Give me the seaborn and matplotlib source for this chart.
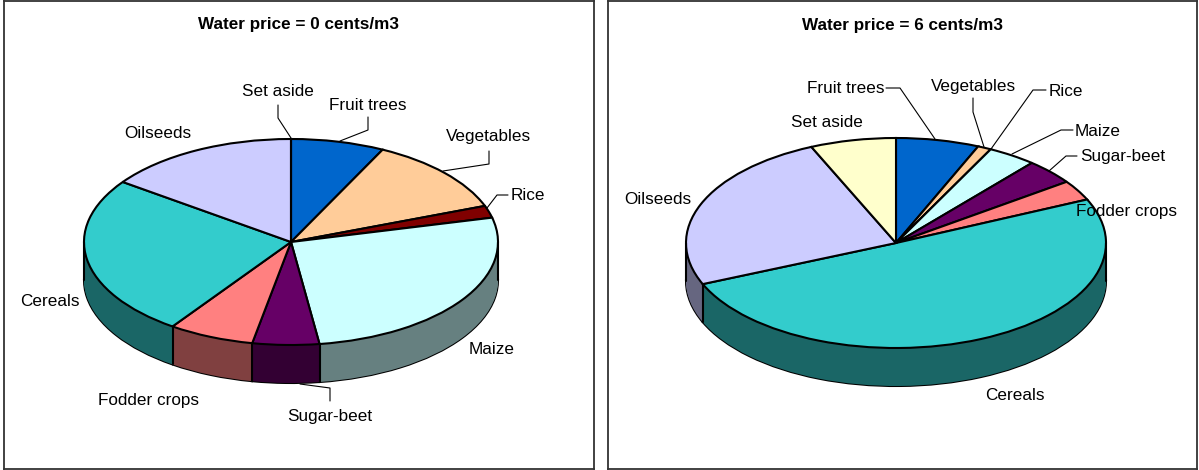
"""Two fake-3D pies: crop shares at water price 0 and 6 cents/m3."""
import numpy as np
import matplotlib
matplotlib.use("Agg")
import matplotlib.pyplot as plt
from matplotlib.colors import to_rgb
import seaborn as sns

W, H = 1199, 470

crops = ["Fruit trees", "Vegetables", "Rice", "Maize", "Sugar-beet",
         "Fodder crops", "Cereals", "Oilseeds", "Set aside"]
shares_0 = [7.3, 12.0, 1.9, 26.6, 5.2, 6.7, 25.2, 15.1, 0.0]
shares_6 = [6.4, 1.05, 0.0, 3.75, 3.9, 3.1, 50.4, 24.8, 6.6]
crop_colors = ["#0066CC", "#FFCC99", "#800000", "#CCFFFF", "#660066",
               "#FF8080", "#33CCCC", "#CCCCFF", "#FFFFCC"]

# label centres in picture pixels
labels_0 = [(368, 105), (488, 137), (528, 196), (492, 350), (330, 416),
            (149, 400), (50, 302), (158, 133), (278, 91)]
labels_6 = [(846, 88), (973, 86), (1066, 91), (1098, 131), (1123, 156),
            (1127, 211), (1015, 395), (658, 199), (827, 122)]

# leader lines, picture pixels
leaders_0 = [[(278, 105), (278, 118), (291, 138)],
             [(368, 117), (368, 130), (340, 141)],
             [(489, 151), (489, 164), (443, 171)],
             [(508, 195), (497, 195), (487, 208)],
             [(330, 401), (330, 388), (300, 384)]]
leaders_6 = [[(886, 88), (900, 88), (935, 139)],
             [(973, 98), (973, 112), (984, 147)],
             [(1046, 90), (1033, 90), (991, 149)],
             [(1073, 130), (1061, 130), (1012, 154)],
             [(1077, 156), (1066, 156), (1049, 171)]]

sns.set_style("white")
plt.rcParams["font.family"] = ["Liberation Sans", "DejaVu Sans"]
dark_colors = [tuple(c * 0.5 for c in to_rgb(col)) for col in crop_colors]


def draw_panel(fig, box, centre, radii, depth, shares, labels, leaders, title, title_xy):
    x0, y0, x1, y1 = box
    cx, cy = centre
    rx, ry = radii
    ax = fig.add_axes([x0 / W, 1 - y1 / H, (x1 - x0) / W, (y1 - y0) / H])

    def px(x, y):
        return (x - cx) / rx, (cy - y) / ry

    d = depth / ry
    pie_args = dict(colors=dark_colors, startangle=90, counterclock=False,
                    radius=1, frame=True)
    # outline of the bottom, then the wall one pixel at a time, then the top
    ax.pie(shares, center=(0, -d),
           wedgeprops=dict(edgecolor="black", linewidth=1.5), **pie_args)
    for off in np.linspace(d, 0, depth + 1):
        ax.pie(shares, center=(0, -off), wedgeprops=dict(linewidth=0), **pie_args)
    pie_args["colors"] = crop_colors
    ax.pie(shares, center=(0, 0),
           wedgeprops=dict(edgecolor="black", linewidth=1.5), **pie_args)

    # vertical wall edges on the front half
    theta = np.deg2rad(np.cumsum(shares) * 3.6)
    for t in theta:
        if np.cos(t) < 0:
            ax.plot([np.sin(t)] * 2, [np.cos(t), np.cos(t) - d], color="black", lw=1.5)
    ax.plot([-1, -1], [0, -d], color="black", lw=1.5)
    ax.plot([1, 1], [0, -d], color="black", lw=1.5)

    for line in leaders:
        xs, ys = zip(*[px(*p) for p in line])
        ax.plot(xs, ys, color="black", lw=0.8)
    for name, xy in zip(crops, labels):
        ax.text(*px(*xy), name, ha="center", va="center", fontsize=12.3, color="black")
    ax.text(*px(*title_xy), title, ha="center", va="center", fontsize=12.3,
            fontweight="bold", color="black")

    ax.set_aspect("auto")
    ax.set_xlim((x0 - cx) / rx, (x1 - cx) / rx)
    ax.set_ylim((cy - y1) / ry, (cy - y0) / ry)
    ax.set_xticks([])
    ax.set_yticks([])
    for s in ax.spines.values():
        s.set_visible(True)
        s.set_color("#333333")
        s.set_linewidth(1.3)


fig = plt.figure(figsize=(W / 100, H / 100), dpi=100, facecolor="white")
draw_panel(fig, (4, 1, 594, 469), (291, 242), (207, 103), 38, shares_0,
           labels_0, leaders_0, "Water price = 0 cents/m3", (299, 25))
draw_panel(fig, (608, 1, 1197, 469), (896, 243), (210, 105), 38, shares_6,
           labels_6, leaders_6, "Water price = 6 cents/m3", (903, 25))
fig.savefig("out.png", dpi=100)
